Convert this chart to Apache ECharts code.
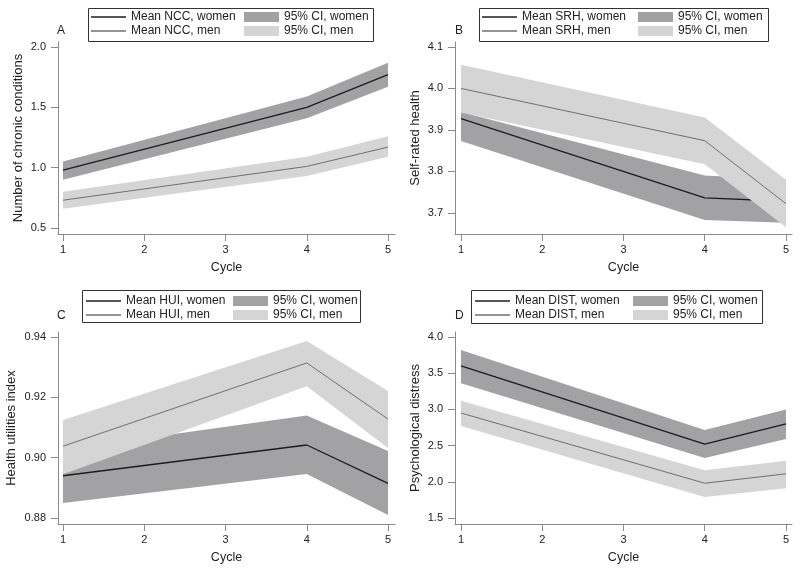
<!DOCTYPE html>
<html><head><meta charset="utf-8">
<script src="https://cdn.jsdelivr.net/npm/echarts@6/dist/echarts.min.js"></script>
<style>html,body{margin:0;padding:0;background:#fff}#c{width:800px;height:572px}</style>
</head><body><div id="c"></div>
<script>
// ---- data ----
const cycles = [1, 4, 5];
const xTicks = [1, 2, 3, 4, 5];

const nccWomenMean = [0.98, 1.50, 1.77];
const nccWomenLo   = [0.90, 1.41, 1.67];
const nccWomenHi   = [1.05, 1.59, 1.87];
const nccMenMean   = [0.73, 1.01, 1.17];
const nccMenLo     = [0.66, 0.93, 1.09];
const nccMenHi     = [0.80, 1.09, 1.26];
const nccTicks     = [0.5, 1.0, 1.5, 2.0];

const srhWomenMean = [3.927, 3.736, 3.728];
const srhWomenLo   = [3.873, 3.683, 3.676];
const srhWomenHi   = [3.943, 3.790, 3.780];
const srhMenMean   = [4.000, 3.874, 3.722];
const srhMenLo     = [3.942, 3.817, 3.665];
const srhMenHi     = [4.057, 3.930, 3.780];
const srhTicks     = [3.7, 3.8, 3.9, 4.0, 4.1];

const huiWomenMean = [0.8940, 0.9042, 0.8915];
const huiWomenLo   = [0.8850, 0.8946, 0.8810];
const huiWomenHi   = [0.9027, 0.9140, 0.9022];
const huiMenMean   = [0.9038, 0.9314, 0.9128];
const huiMenLo     = [0.8945, 0.9237, 0.9032];
const huiMenHi     = [0.9125, 0.9387, 0.9221];
const huiTicks     = [0.88, 0.90, 0.92, 0.94];

const distWomenMean = [3.60, 2.52, 2.80];
const distWomenLo   = [3.36, 2.33, 2.59];
const distWomenHi   = [3.82, 2.715, 3.00];
const distMenMean   = [2.95, 1.98, 2.11];
const distMenLo     = [2.77, 1.79, 1.91];
const distMenHi     = [3.12, 2.16, 2.29];
const distTicks     = [1.5, 2.0, 2.5, 3.0, 3.5, 4.0];

// ---- styles ----
const FONT = 'Liberation Sans, Arial, Helvetica, sans-serif';
const DARK = '#a2a2a4';
const LIGHT = '#d5d5d6';
const WLINE = '#1c1c1c';
const MLINE = '#707070';
const AXIS = '#8a8a8a';

const panels = [
  {key:'NCC', letter:'A', yname:'Number of chronic conditions', dec:1, ticks:nccTicks,
   wm:nccWomenMean, wl:nccWomenLo, wh:nccWomenHi, mm:nccMenMean, ml:nccMenLo, mh:nccMenHi,
   grid:{left:58, top:42, width:337, height:192}, xmin:0.9385, xmax:5.086, ymin:0.450, ymax:2.041, nameGap:33,
   box:[88,8,285,33], lineLeg:[91,10], rectLeg:[244,10], letterPos:[57,25]},
  {key:'SRH', letter:'B', yname:'Self-rated health', dec:1, ticks:srhTicks,
   wm:srhWomenMean, wl:srhWomenLo, wh:srhWomenHi, mm:srhMenMean, ml:srhMenLo, mh:srhMenHi,
   grid:{left:455, top:42, width:337, height:192}, xmin:0.926, xmax:5.074, ymin:3.649, ymax:4.112, nameGap:33,
   box:[479,8,289,33], lineLeg:[482,10], rectLeg:[638,10], letterPos:[455,25]},
  {key:'HUI', letter:'C', yname:'Health utilities index', dec:2, ticks:huiTicks,
   wm:huiWomenMean, wl:huiWomenLo, wh:huiWomenHi, mm:huiMenMean, ml:huiMenLo, mh:huiMenHi,
   grid:{left:58, top:332, width:337, height:192}, xmin:0.9385, xmax:5.086, ymin:0.87801, ymax:0.94166, nameGap:40,
   box:[82,290,278,32], lineLeg:[86,294], rectLeg:[233,294], letterPos:[57,310]},
  {key:'DIST', letter:'D', yname:'Psychological distress', dec:1, ticks:distTicks,
   wm:distWomenMean, wl:distWomenLo, wh:distWomenHi, mm:distMenMean, ml:distMenLo, mh:distMenHi,
   grid:{left:455, top:332, width:337, height:192}, xmin:0.926, xmax:5.074, ymin:1.417, ymax:4.069, nameGap:33,
   box:[471,290,291,33], lineLeg:[475,294], rectLeg:[633,294], letterPos:[455,310]}
];

const grids = [], xAxes = [], yAxes = [], series = [], legends = [], graphics = [], titles = [];

function pts(v) { return cycles.map((c, i) => [c, v[i]]); }

function bandSeries(g, name, lo, hi, color, z) {
  return {
    type:'custom', name:name, xAxisIndex:g, yAxisIndex:g, silent:true, z:z,
    itemStyle:{color:color},
    encode:{x:0, y:[1, 2]},
    data: cycles.map((c, i) => [c, lo[i], hi[i]]),
    renderItem: function (params, api) {
      if (params.dataIndex !== 0) return null;
      const upper = cycles.map((c, i) => api.coord([c, hi[i]]));
      const lower = cycles.map((c, i) => api.coord([c, lo[i]])).reverse();
      return {
        type:'polygon',
        shape:{points: upper.concat(lower)},
        style:{fill:color, stroke:null}
      };
    }
  };
}

panels.forEach((p, g) => {
  grids.push(Object.assign({containLabel:false}, p.grid));
  xAxes.push({
    type:'value', gridIndex:g, min:p.xmin, max:p.xmax,
    name:'Cycle', nameLocation:'middle', nameGap:27,
    nameTextStyle:{fontFamily:FONT, fontSize:12.5, color:'#222'},
    axisLine:{show:true, lineStyle:{color:AXIS, width:1}},
    axisTick:{show:true, customValues:xTicks, length:7, lineStyle:{color:AXIS}},
    axisLabel:{customValues:xTicks, margin:10, fontFamily:FONT, fontSize:11, color:'#222'},
    splitLine:{show:false}
  });
  yAxes.push({
    type:'value', gridIndex:g, min:p.ymin, max:p.ymax,
    name:p.yname, nameLocation:'middle', nameGap:p.nameGap,
    nameTextStyle:{fontFamily:FONT, fontSize:13, color:'#222'},
    axisLine:{show:true, lineStyle:{color:AXIS, width:1}},
    axisTick:{show:true, customValues:p.ticks, length:7, lineStyle:{color:AXIS}},
    axisLabel:{customValues:p.ticks, margin:12, fontFamily:FONT, fontSize:11, color:'#222',
      formatter: v => Number(v).toFixed(p.dec)},
    splitLine:{show:false}
  });
  const common = {xAxisIndex:g, yAxisIndex:g, symbol:'none', showSymbol:false, silent:true};
  series.push(bandSeries(g, '95% CI, women', p.wl, p.wh, DARK, 1));
  series.push(Object.assign({type:'line', name:'Mean '+p.key+', women', data:pts(p.wm), z:2,
    lineStyle:{color:WLINE, width:1.3}, itemStyle:{color:WLINE}}, common));
  series.push(bandSeries(g, '95% CI, men', p.ml, p.mh, LIGHT, 3));
  series.push(Object.assign({type:'line', name:'Mean '+p.key+', men', data:pts(p.mm), z:4,
    lineStyle:{color:MLINE, width:1}, itemStyle:{color:MLINE}}, common));

  const legText = {fontFamily:FONT, fontSize:12, color:'#222', lineHeight:14};
  legends.push({
    left:p.lineLeg[0], top:p.lineLeg[1], orient:'vertical', padding:0, itemGap:0,
    itemWidth:35, itemHeight:1.3, selectedMode:false, textStyle:legText,
    data:[
      {name:'Mean '+p.key+', women', icon:'rect', itemStyle:{color:WLINE, opacity:1, borderWidth:0}},
      {name:'Mean '+p.key+', men', icon:'rect', itemStyle:{color:MLINE, opacity:1, borderWidth:0}}
    ]
  });
  legends.push({
    left:p.rectLeg[0], top:p.rectLeg[1], orient:'vertical', padding:0, itemGap:0,
    itemWidth:35, itemHeight:10, selectedMode:false, textStyle:legText,
    data:[
      {name:'95% CI, women', icon:'rect', itemStyle:{color:DARK, opacity:1, borderWidth:0}},
      {name:'95% CI, men', icon:'rect', itemStyle:{color:LIGHT, opacity:1, borderWidth:0}}
    ]
  });
  graphics.push({type:'rect', silent:true, z:100,
    shape:{x:p.box[0]+0.5, y:p.box[1]+0.5, width:p.box[2], height:p.box[3]},
    style:{fill:null, stroke:'#333', lineWidth:1}});
  titles.push({text:p.letter, left:p.letterPos[0], top:p.letterPos[1], padding:0,
    textStyle:{fontFamily:FONT, fontSize:12, fontWeight:'normal', color:'#222'}});
});

const chart = echarts.init(document.getElementById('c'), null, {renderer:'canvas'});
chart.setOption({
  backgroundColor:'#fff',
  animation:false,
  title:titles,
  grid:grids, xAxis:xAxes, yAxis:yAxes,
  legend:legends,
  series:series,
  graphic:graphics
});
</script>
</body></html>
